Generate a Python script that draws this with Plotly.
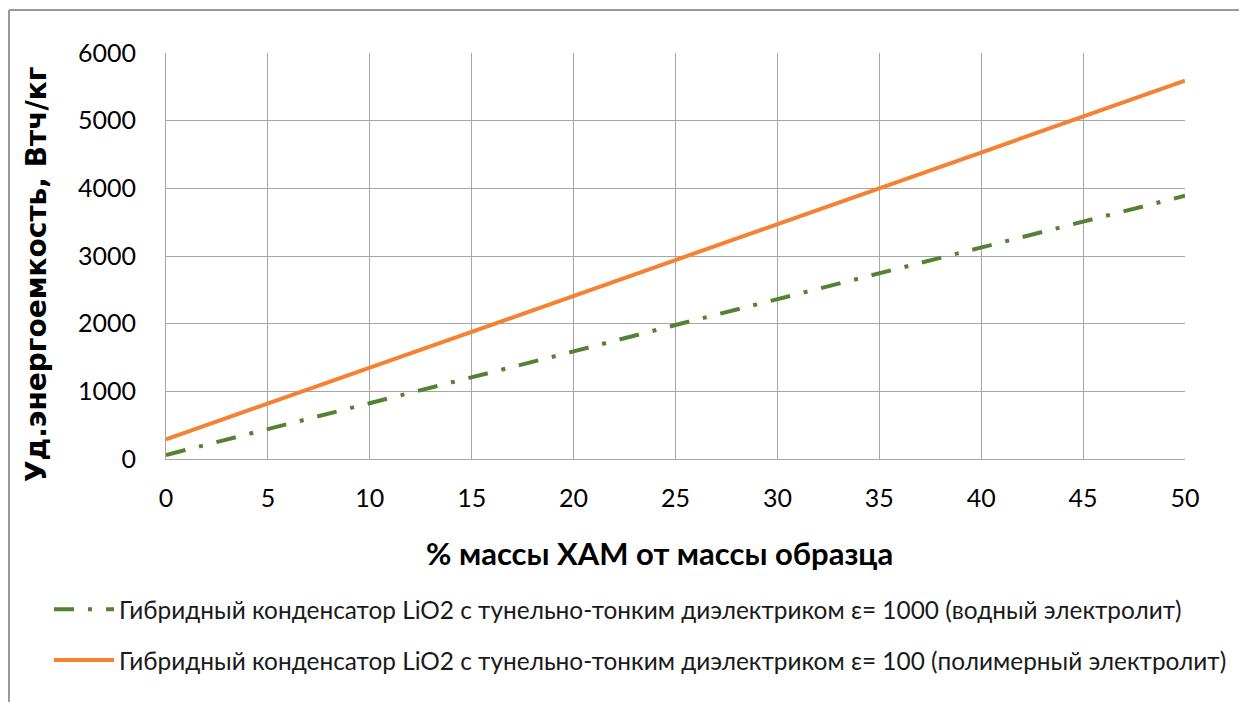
import plotly.graph_objects as go

x_vals = [0, 5, 10, 15, 20, 25, 30, 35, 40, 45, 50]
green_vals = [60, 440, 830, 1210, 1590, 1980, 2360, 2740, 3120, 3510, 3890]
orange_vals = [290, 820, 1350, 1880, 2410, 2940, 3470, 4000, 4530, 5060, 5590]
green_name = "Гибридный конденсатор LiO2 с тунельно-тонким диэлектриком ε= 1000 (водный электролит)"
orange_name = "Гибридный конденсатор LiO2 с тунельно-тонким диэлектриком ε= 100 (полимерный электролит)"
x_title = "% массы ХАМ от массы образца"
y_title = "Уд.энергоемкость, Втч/кг"
x_ticks = [0, 5, 10, 15, 20, 25, 30, 35, 40, 45, 50]
y_ticks = [0, 1000, 2000, 3000, 4000, 5000, 6000]

FONT = "Lato, Open Sans, sans-serif"
GRID = "#a6a6a6"

fig = go.Figure()
fig.add_trace(go.Scatter(x=x_vals, y=green_vals, mode="lines", name=green_name, legendgroup="g",
                         line=dict(color="#548235", width=4, dash="20px,14px,4px,14px")))
fig.add_trace(go.Scatter(x=x_vals, y=orange_vals, mode="lines", name=orange_name, legendgroup="o",
                         line=dict(color="#f58132", width=4)))

OFF = 8  # page offset of the figure inside the window
W, H = 1247 - OFF, 702 - OFF
# desired screen positions of plot area
SX0, SX1, SY0, SY1 = 166, 1185, 53, 459
L = SX0 - OFF
R = W - (SX1 - OFF)
T = SY0 - OFF
B = H - (SY1 - OFF)
pw = SX1 - SX0
ph = SY1 - SY0

def sx(px):
    return (px - SX0) / pw

def sy(py):
    return (SY1 - py) / ph

fig.update_layout(
    width=W, height=H,
    margin=dict(l=L, r=R, t=T, b=B),
    paper_bgcolor="white", plot_bgcolor="white",
    font=dict(family=FONT, color="#000000", size=22),
    showlegend=True,
    legend=dict(orientation="v", x=sx(49), y=sy(587), xanchor="left", yanchor="top",
                font=dict(family=FONT, size=24.4, color="#1a1a1a"), tracegroupgap=16,
                traceorder="grouped", itemwidth=60, bgcolor="rgba(0,0,0,0)"),
    xaxis=dict(range=[0, 50], tickvals=x_ticks, showgrid=True, gridcolor=GRID, gridwidth=1,
               showline=True, linecolor=GRID, linewidth=1, mirror=False, zeroline=False,
               tickfont=dict(family=FONT, size=25), ticks="", ticklabelstandoff=17),
    yaxis=dict(range=[0, 6000], tickvals=y_ticks, showgrid=True, gridcolor=GRID, gridwidth=1,
               showline=True, linecolor=GRID, linewidth=1, zeroline=False,
               tickfont=dict(family=FONT, size=25), ticks="", ticklabelstandoff=24),
)

fig.add_annotation(text="<b>" + y_title + "</b>", textangle=-90, xref="paper", yref="paper",
                   x=sx(36), y=sy(275), xanchor="center", yanchor="middle", showarrow=False,
                   font=dict(family="DejaVu Sans", size=28, color="#000000"))
fig.add_annotation(text="<b>" + x_title + "</b>", xref="paper", yref="paper",
                   x=sx(659), y=sy(553), xanchor="center", yanchor="middle", showarrow=False,
                   font=dict(family=FONT, size=31, color="#000000"))

fig.add_shape(type="line", xref="paper", yref="paper", x0=sx(9), x1=sx(1260),
              y0=sy(10), y1=sy(10), line=dict(color="#999999", width=2))
fig.add_shape(type="line", xref="paper", yref="paper", x0=sx(9), x1=sx(9),
              y0=sy(10), y1=sy(720), line=dict(color="#999999", width=2))

fig.write_html("out.html")
